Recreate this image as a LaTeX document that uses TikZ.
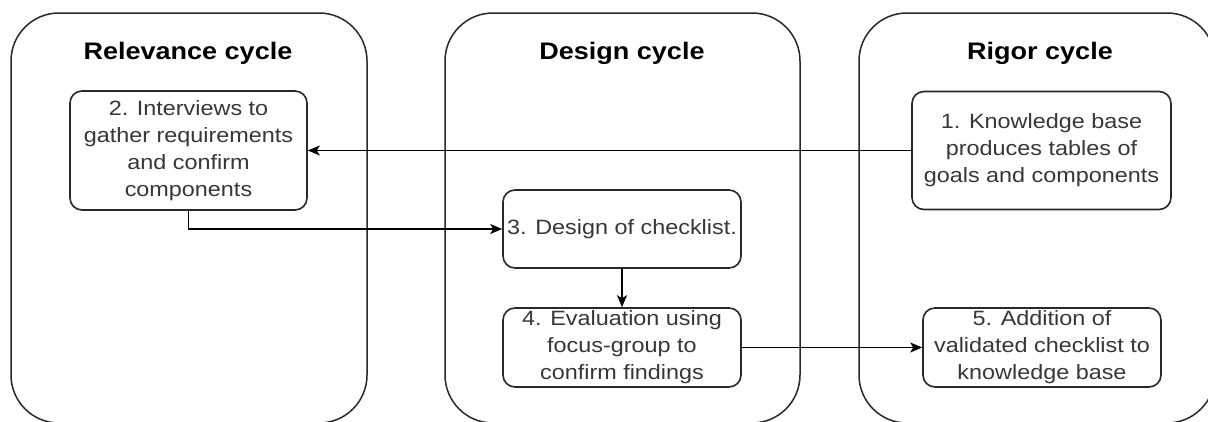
\documentclass[tikz,border=0pt]{standalone}
\usepackage{fontspec}
\setmainfont{Liberation Sans}[FakeStretch=1.13]
\usetikzlibrary{arrows.meta}
\definecolor{txtgray}{RGB}{55,55,55}
\definecolor{linegray}{RGB}{40,40,40}
\tikzset{
  panel/.style={draw=linegray, line width=1.5pt, rounded corners=48pt, inner sep=0pt},
  ptitle/.style={font=\bfseries\fontsize{23.9}{28}\selectfont, text=black, inner sep=0pt},
  stepbox/.style={draw=linegray, line width=1.6pt, rounded corners=12pt, align=center,
    font=\fontsize{20.7}{27}\selectfont, text=txtgray, inner sep=0pt},
  conn/.style={draw=black, line width=1.5pt, -{Stealth[length=12pt,width=10pt,inset=3pt]}}
}
\begin{document}
\begin{tikzpicture}[x=1pt,y=-1pt]
\useasboundingbox (0,0) rectangle (1208,421);
\fill[white] (0,0) rectangle (1208,421);
\clip (0,0) rectangle (1208,421);
% panels
\node[panel, minimum width=356pt, minimum height=410pt] (relp) at (189,218) {};
\node[panel, minimum width=355pt, minimum height=410pt] (desp) at (622.5,218) {};
\node[panel, minimum width=356pt, minimum height=410pt] (rigp) at (1037,218) {};
% titles
\node[ptitle] (relt) at (188,53) {Relevance cycle};
\node[ptitle] (dest) at (622,53) {Design cycle};
\node[ptitle] (rigt) at (1040,53) {Rigor cycle};
% steps
\node[stepbox, minimum width=237pt, minimum height=119pt] (s2) at (188.5,150.5)
  {2. Interviews to\\gather requirements\\and confirm\\components};
\node[stepbox, minimum width=238pt, minimum height=78pt] (s3) at (622,229)
  {3. Design of checklist.};
\node[stepbox, minimum width=238pt, minimum height=79pt] (s4) at (622,347.5)
  {4. Evaluation using\\focus-group to\\confirm findings};
\node[stepbox, minimum width=259pt, minimum height=118pt] (s1) at (1041.5,150.5)
  {1. Knowledge base\\produces tables of\\goals and components};
\node[stepbox, minimum width=238pt, minimum height=79pt] (s5) at (1042,347.5)
  {5. Addition of\\validated checklist to\\knowledge base};
% connectors
\draw[conn] (s1.west) -- (s2.east);
\draw[conn] (s2.south) |- (s3.west);
\draw[conn] (s3.south) -- (s4.north);
\draw[conn] (s4.east) -- (s5.west);
\end{tikzpicture}
\end{document}
